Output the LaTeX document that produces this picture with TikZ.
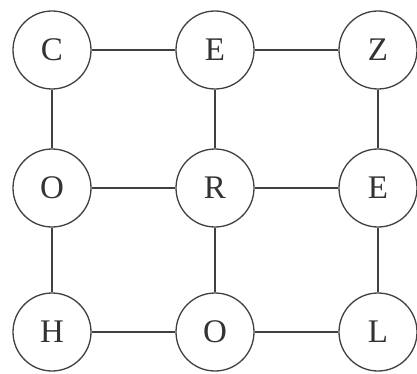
\documentclass[tikz,border=0pt]{standalone}
\usepackage{fontspec}
\setmainfont{Liberation Serif}
\begin{document}
\begin{tikzpicture}[x=1pt,y=-1pt,
  letter/.style={circle,draw=black!75,line width=1.3pt,minimum size=78pt,inner sep=0pt,font=\fontsize{33}{33}\selectfont,text=black!80},
  link/.style={draw=black!75,line width=1.2pt}]
\useasboundingbox (0,0) rectangle (417,374);
\node[letter] (c) at (52,50) {C};
\node[letter] (e1) at (215,50) {E};
\node[letter] (z) at (378,50) {Z};
\node[letter] (o1) at (52,188) {O};
\node[letter] (r) at (215,188) {R};
\node[letter] (e2) at (378,188) {E};
\node[letter] (h) at (52,332) {H};
\node[letter] (o2) at (215,332) {O};
\node[letter] (l) at (378,332) {L};
\draw[link] (c) -- (e1);
\draw[link] (e1) -- (z);
\draw[link] (o1) -- (r);
\draw[link] (r) -- (e2);
\draw[link] (h) -- (o2);
\draw[link] (o2) -- (l);
\draw[link] (c) -- (o1);
\draw[link] (o1) -- (h);
\draw[link] (e1) -- (r);
\draw[link] (r) -- (o2);
\draw[link] (z) -- (e2);
\draw[link] (e2) -- (l);
\end{tikzpicture}
\end{document}
